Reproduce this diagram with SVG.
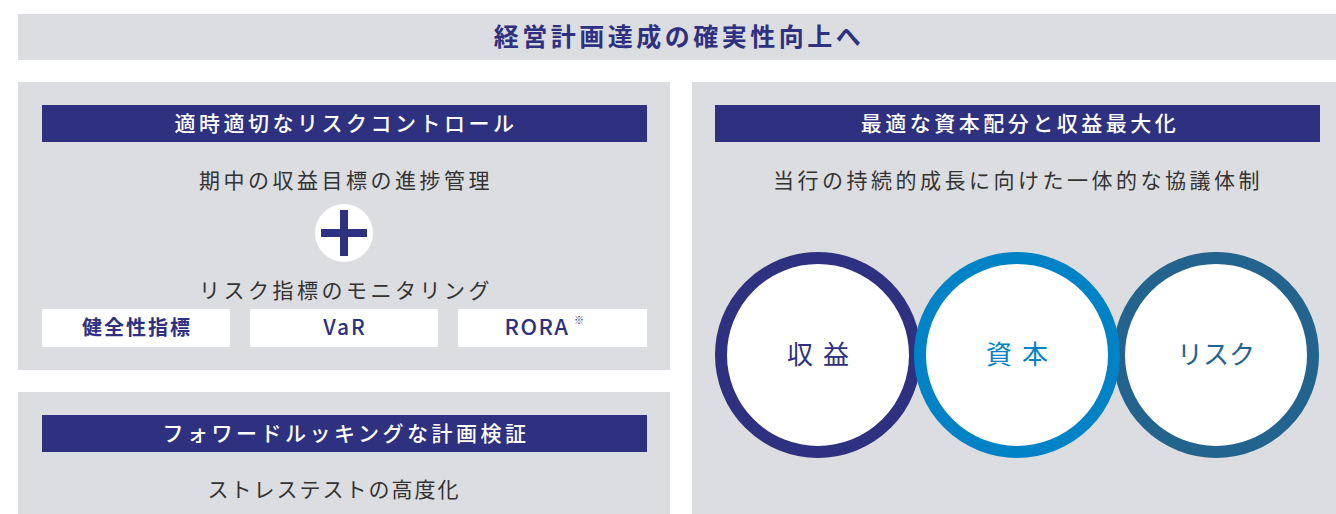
<svg xmlns="http://www.w3.org/2000/svg" width="1336" height="514" viewBox="0 0 1336 514">
<defs>
<style>
.panel{fill:#dcdde0}
.hbar{fill:#2e3080}
.jp{font-family:"Noto Sans CJK JP","Noto Sans",sans-serif}
.ht{font-size:21px;fill:#ffffff;font-weight:500;letter-spacing:3.5px}
.bt{font-size:21px;fill:#333333;letter-spacing:3.5px}
.box{fill:#ffffff}
.bx{font-size:20px;fill:#2e3080;font-weight:700;letter-spacing:2px}
.ring{fill:#ffffff;stroke-width:12}
.rt{font-size:26px;letter-spacing:6px}
</style>
</defs>
<rect width="1336" height="514" fill="#ffffff"/>
<g id="title">
<rect class="panel" x="18" y="14" width="1318" height="46"/>
<text class="jp" x="679" y="46" text-anchor="middle" font-size="25" font-weight="700" fill="#2e3080" letter-spacing="3.5">経営計画達成の確実性向上へ</text>
</g>
<g id="risk-control">
<rect class="panel" x="18" y="82" width="652" height="288"/>
<rect class="hbar" x="42" y="105" width="605" height="37"/>
<text class="jp ht" x="346" y="131" text-anchor="middle">適時適切なリスクコントロール</text>
<text class="jp bt" x="346" y="188" text-anchor="middle">期中の収益目標の進捗管理</text>
<circle cx="344" cy="233" r="29" fill="#ffffff"/>
<rect x="321" y="229" width="46" height="8" fill="#2e3080"/>
<rect x="340" y="210" width="8" height="46" fill="#2e3080"/>
<text class="jp bt" x="346" y="298" text-anchor="middle">リスク指標のモニタリング</text>
</g>
<g id="indicator-soundness">
<rect class="box" x="42" y="309" width="188" height="38"/>
<text class="jp bx" x="137" y="335" text-anchor="middle">健全性指標</text>
</g>
<g id="indicator-var">
<rect class="box" x="250" y="309" width="188" height="38"/>
<text class="jp bx" x="345" y="335" text-anchor="middle" style="font-weight:500;font-size:21px">VaR</text>
</g>
<g id="indicator-rora">
<rect class="box" x="458" y="309" width="189" height="38"/>
<text class="jp bx" x="537" y="335" text-anchor="middle" style="font-weight:500;font-size:22px;letter-spacing:1.5px">RORA</text>
<text class="jp" x="574" y="324" font-size="10" fill="#2e3080">※</text>
</g>
<g id="forward-looking">
<rect class="panel" x="18" y="392" width="652" height="122"/>
<rect class="hbar" x="42" y="415" width="605" height="37"/>
<text class="jp ht" x="346" y="441" text-anchor="middle">フォワードルッキングな計画検証</text>
<text class="jp bt" x="334" y="497" text-anchor="middle" style="letter-spacing:2px">ストレステストの高度化</text>
</g>
<g id="capital-allocation">
<rect class="panel" x="692" y="82" width="644" height="432"/>
<rect class="hbar" x="715" y="105" width="605" height="37"/>
<text class="jp ht" x="1020" y="131" text-anchor="middle">最適な資本配分と収益最大化</text>
<text class="jp bt" x="1018" y="188" text-anchor="middle">当行の持続的成長に向けた一体的な協議体制</text>
</g>
<g id="connectors"></g>
<g id="ring-earnings">
<circle class="ring" cx="818" cy="355" r="97" stroke="#2e3080"/>
<text class="jp rt" x="823" y="364" text-anchor="middle" fill="#2e3080" style="letter-spacing:10px">収益</text>
</g>
<g id="ring-risk">
<circle class="ring" cx="1216" cy="355" r="97" stroke="#23648f"/>
<text class="jp rt" x="1216" y="364" text-anchor="middle" fill="#23648f" style="letter-spacing:0px">リスク</text>
</g>
<g id="ring-capital">
<circle class="ring" cx="1017" cy="355" r="97" stroke="#0082c6"/>
<text class="jp rt" x="1022" y="364" text-anchor="middle" fill="#0082c6" style="letter-spacing:10px">資本</text>
</g>
</svg>
